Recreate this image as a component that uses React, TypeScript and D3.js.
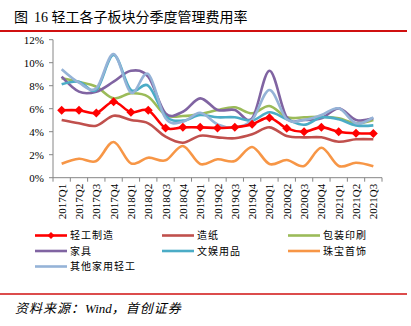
import React from "react";
import * as d3 from "d3";

const categories = ["2017Q1","2017Q2","2017Q3","2017Q4","2018Q1","2018Q2","2018Q3","2018Q4","2019Q1","2019Q2","2019Q3","2019Q4","2020Q1","2020Q2","2020Q3","2020Q4","2021Q1","2021Q2","2021Q3"];

const qinggongzhizao = [5.86,5.86,5.63,6.6,5.69,5.86,4.32,4.38,4.38,4.32,4.38,4.64,5.22,4.29,4.0,4.38,4.0,3.86,3.84];
const zaozhi = [5.02,4.73,4.52,5.39,5.02,4.73,3.57,3.04,3.65,3.51,3.43,3.77,4.38,3.63,3.51,3.51,3.13,3.34,3.34];
const baozhuangyinshua = [8.64,8.32,7.91,6.9,7.34,7.04,5.45,5.36,5.54,5.89,6.12,5.6,6.23,5.25,5.25,5.3,5.16,4.73,5.02];
const jiaju = [8.78,7.48,7.48,8.35,9.3,8.78,5.6,5.74,6.9,5.89,5.89,5.16,9.3,5.25,5.02,5.16,6.03,5.02,5.16];
const wenyuyongpin = [8.12,8.35,7.63,10.67,7.63,8.0,5.36,4.96,5.45,5.25,5.25,4.96,5.69,5.08,4.6,5.25,5.08,4.55,4.55];
const zhubaoshoushi = [1.22,1.65,1.45,3.1,1.25,1.74,1.51,2.76,1.19,1.6,1.45,2.67,1.19,1.54,1.02,2.6,1.02,1.3,1.0];
const qitajiayong = [9.43,8.26,7.77,10.76,7.39,9.02,5.16,4.87,5.65,4.64,4.38,5.02,7.63,5.08,5.02,5.45,6.03,4.73,5.25];

const yTicks = [0,2,4,6,8,10,12];

const seriesNames = ["轻工制造","造纸","包装印刷","家具","文娱用品","珠宝首饰","其他家用轻工"];
const seriesData = [qinggongzhizao, zaozhi, baozhuangyinshua, jiaju, wenyuyongpin, zhubaoshoushi, qitajiayong];
const seriesColors = ["#FF0000","#C0504D","#9BBB59","#8064A2","#4BACC6","#F79646","#95B3D7"];
const drawOrder = [1,2,3,4,5,6,0];

export default function App() {
  const W = 411, H = 326;
  const left = 53, right = 382, top = 39.7, bottom = 177.7;
  const x = d3.scaleBand<string>().domain(categories).range([left, right]);
  const y = d3.scaleLinear().domain([0, 12]).range([bottom, top]);
  const cx = (c: string) => (x(c) as number) + x.bandwidth() / 2;
  const line = d3.line<number>()
    .x((_, i) => cx(categories[i]))
    .y(d => y(d))
    .curve(d3.curveCatmullRom.alpha(0));
  const diamond = (px: number, py: number, r: number) =>
    `M${px},${py - r}L${px + r},${py}L${px},${py + r}L${px - r},${py}Z`;

  const serif = "'Times New Roman','Liberation Serif','Noto Sans CJK SC',serif";
  const cjk = "'Noto Sans CJK SC',sans-serif";

  const legendCols = [35, 162, 288];
  const legendRows = [235.5, 251, 266.5];

  return (
    <svg width={W} height={H} style={{ position: "absolute", left: 0, top: 0, background: "#fff" }}>
      <text x={14} y={22} fontSize={14} fontFamily={serif} fill="#000">
        <tspan fontFamily={cjk}>图</tspan>
        <tspan dx={6}>16 </tspan>
        <tspan fontFamily={cjk}>轻工各子板块分季度管理费用率</tspan>
      </text>
      <line x1={0} x2={407} y1={31} y2={31} stroke="#D01010" strokeWidth={2} />

      {/* y axis */}
      <line x1={left} x2={left} y1={top} y2={bottom} stroke="#868686" strokeWidth={1} />
      {yTicks.map(t => (
        <g key={t}>
          <line x1={left - 4} x2={left} y1={y(t)} y2={y(t)} stroke="#868686" />
          <text x={44} y={y(t)} dy="0.35em" textAnchor="end" fontSize={11} fontFamily={serif} fill="#000">{t}%</text>
        </g>
      ))}
      {/* x axis */}
      <line x1={left} x2={right} y1={bottom} y2={bottom} stroke="#868686" strokeWidth={1} />
      {categories.map((c, i) => (
        <line key={"t" + c} x1={(x(c) as number) + (i === 0 ? 0 : 0)} x2={x(c) as number} y1={bottom} y2={bottom + 4} stroke="#868686" />
      ))}
      <line x1={right} x2={right} y1={bottom} y2={bottom + 4} stroke="#868686" />
      {categories.map(c => (
        <text key={"l" + c} transform={`translate(${cx(c) + 4},${bottom + 6}) rotate(-90)`} textAnchor="end"
          fontSize={11} fontFamily={serif} fill="#000">{c}</text>
      ))}

      {/* series */}
      {drawOrder.map(k => (
        <path key={"s" + k} d={line(seriesData[k]) as string} fill="none" stroke={seriesColors[k]} strokeWidth={2.6} strokeLinejoin="round" />
      ))}
      {qinggongzhizao.map((v, i) => (
        <path key={"m" + i} d={diamond(cx(categories[i]), y(v), 4.5)} fill="#FF0000" />
      ))}

      {/* legend */}
      {seriesNames.map((n, k) => {
        const lx = legendCols[k % 3];
        const ly = legendRows[Math.floor(k / 3)];
        return (
          <g key={"lg" + k}>
            <line x1={lx} x2={lx + 32} y1={ly} y2={ly} stroke={seriesColors[k]} strokeWidth={2.6} />
            {k === 0 && <path d={diamond(lx + 16, ly, 3.5)} fill="#FF0000" />}
            <text x={lx + 35} y={ly} dy="0.35em" fontSize={10} letterSpacing={1} fontFamily={cjk} fill="#000">{n}</text>
          </g>
        );
      })}

      <line x1={0} x2={407} y1={294} y2={294} stroke="#D01010" strokeWidth={1.5} />
      <text x={15} y={313} fontSize={13} fontStyle="italic" fontFamily={serif} fill="#000">
        <tspan fontFamily={cjk} letterSpacing={1}>资料来源：</tspan>
        <tspan>Wind</tspan>
        <tspan fontFamily={cjk} letterSpacing={1}>，首创证券</tspan>
      </text>
    </svg>
  );
}
